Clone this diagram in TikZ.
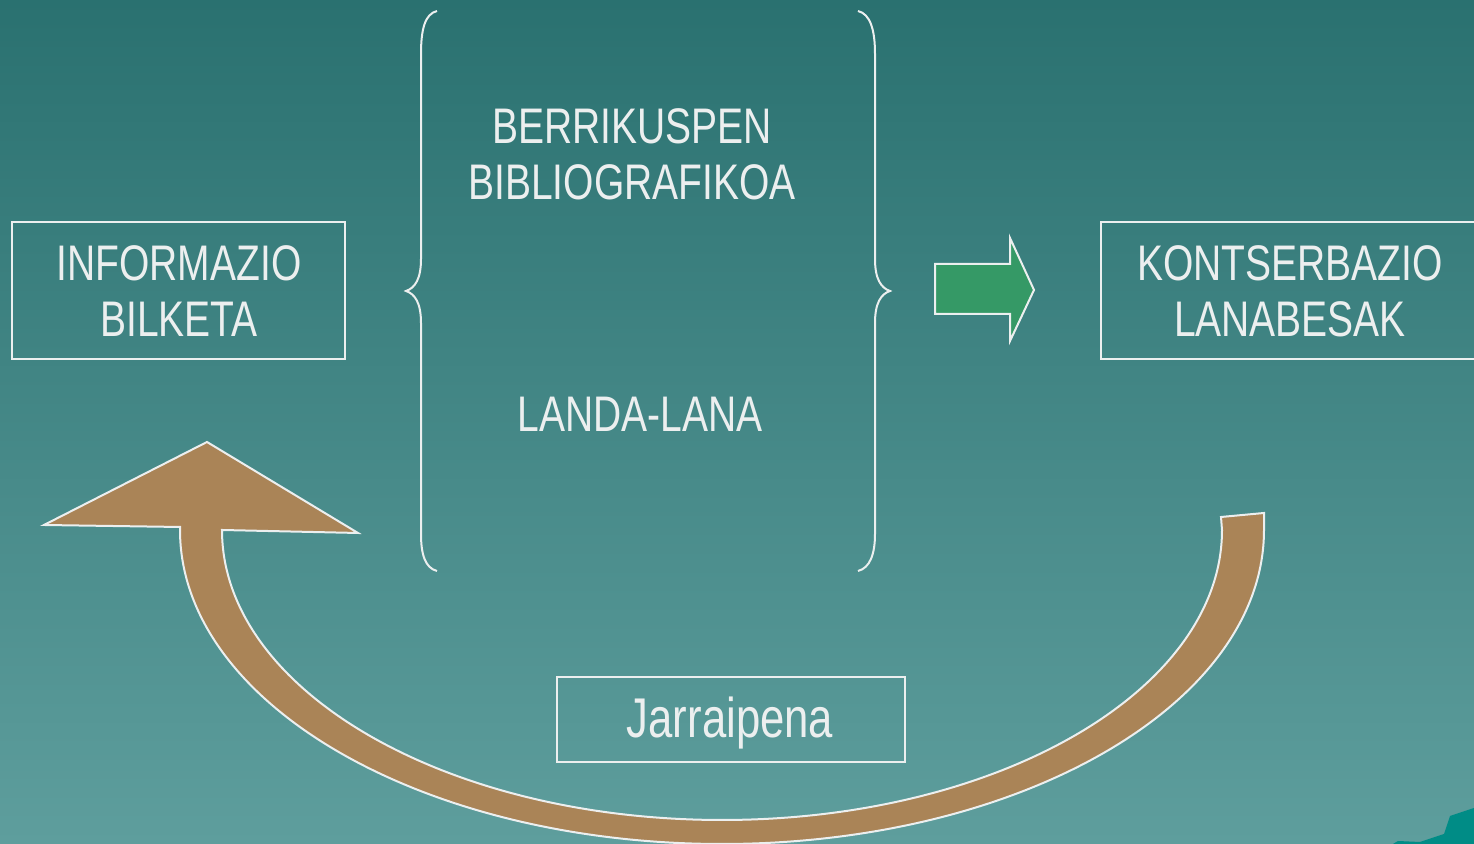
\documentclass[tikz,border=0pt]{standalone}
\usepackage{fontspec}
\setmainfont[FakeStretch=0.78]{Liberation Sans}
\definecolor{bgtop}{RGB}{42,113,112}
\definecolor{bgbot}{RGB}{94,158,157}
\definecolor{txt}{RGB}{236,239,239}
\definecolor{grn}{RGB}{53,153,102}
\definecolor{brn}{RGB}{170,132,87}
\definecolor{deco}{RGB}{0,140,134}
\tikzset{
  lbl/.style={text=txt, align=center, font=\fontsize{25}{28}\selectfont, inner sep=0pt},
  framebox/.style={draw=txt, line width=1pt, inner sep=0pt},
  brace/.style={draw=txt, line width=1pt},
  shapeedge/.style={draw=txt, line width=1pt, line join=miter},
}
\begin{document}
\begin{tikzpicture}[x=0.5pt,y=0.5pt]
\shade[top color=bgtop, bottom color=bgbot] (0,0) rectangle (1474,844);
\useasboundingbox (0,0) rectangle (1474,844);
% decorative corner
\fill[deco] (1393,0) -- (1398,3) -- (1420,2) -- (1444,10) -- (1450,28) -- (1462,32) -- (1474,36) -- (1474,0) -- cycle;
% boxes
\node[framebox, minimum width=166.5pt, minimum height=68.5pt] (info) at (178.5,553.5) {};
\node[lbl] (infot) at (179,553) {INFORMAZIO\\BILKETA};
\node[framebox, minimum width=189pt, minimum height=68.5pt] (kons) at (1290,553.5) {};
\node[lbl] (konst) at (1290,553) {KONTSERBAZIO\\LANABESAK};
\node[framebox, minimum width=174pt, minimum height=42.5pt] (jarr) at (731,124.5) {};
\node[lbl, font=\fontsize{28}{30}\selectfont] (jarrt) at (730,121) {Jarraipena};
% middle texts
\node[lbl] (berri) at (632,690) {BERRIKUSPEN\\BIBLIOGRAFIKOA};
\node[lbl] (landa) at (640,430) {LANDA-LANA};
% braces
\draw[brace] (437,833) .. controls (425,830) and (421,815) .. (421,790) -- (421,585) .. controls (421,565) and (415,556) .. (406,553) .. controls (415,550) and (421,541) .. (421,521) -- (421,310) .. controls (421,290) and (425,276) .. (437,273);
\draw[brace] (858,833) .. controls (870,830) and (875,815) .. (875,790) -- (875,585) .. controls (875,565) and (881,556) .. (890,553) .. controls (881,550) and (875,541) .. (875,521) -- (875,310) .. controls (875,290) and (870,276) .. (858,273);
% green arrow
\filldraw[shapeedge, fill=grn] (935,580) -- (1010,580) -- (1010,606) -- (1034,554) -- (1010,503) -- (1010,530) -- (935,530) -- cycle;
% brown curved arrow
\filldraw[shapeedge, fill=brn] (1221,327) -- (1264,331) -- (1264,314)
  arc[start angle=0, end angle=-180, x radius=542, y radius=314]
  -- (180,317) -- (44,319) -- (207,402) -- (358,311) -- (222,314)
  arc[start angle=180, end angle=360, x radius=500, y radius=290]
  -- cycle;
\end{tikzpicture}
\end{document}
